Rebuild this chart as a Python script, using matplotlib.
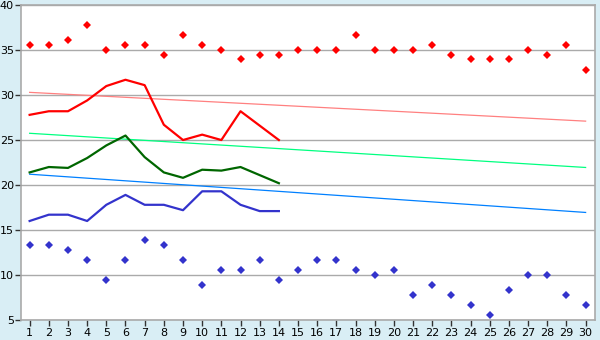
import matplotlib
matplotlib.use('Agg')
import matplotlib.pyplot as plt

# days of the month
days = list(range(1, 31))
days_14 = list(range(1, 15))

# record highs / record lows (diamond markers)
rec_high = [35.6, 35.6, 36.1, 37.8, 35.0, 35.6, 35.6, 34.4, 36.7, 35.6,
            35.0, 34.0, 34.4, 34.4, 35.0, 35.0, 35.0, 36.7, 35.0, 35.0,
            35.0, 35.6, 34.4, 34.0, 34.0, 34.0, 35.0, 34.4, 35.6, 32.8]
rec_low = [13.3, 13.3, 12.8, 11.7, 9.4, 11.7, 13.9, 13.3, 11.7, 8.9,
           10.6, 10.6, 11.7, 9.4, 10.6, 11.7, 11.7, 10.6, 10.0, 10.6,
           7.8, 8.9, 7.8, 6.7, 5.6, 8.3, 10.0, 10.0, 7.8, 6.7]

# observed max / mean / min for the first 14 days
obs_max = [27.8, 28.2, 28.2, 29.4, 31.0, 31.7, 31.1, 26.7, 25.0, 25.6, 25.0, 28.2, 26.6, 25.0]
obs_mean = [21.4, 22.0, 21.9, 23.0, 24.4, 25.5, 23.1, 21.4, 20.8, 21.7, 21.6, 22.0, 21.1, 20.2]
obs_min = [16.0, 16.7, 16.7, 16.0, 17.8, 18.9, 17.8, 17.8, 17.2, 19.3, 19.3, 17.8, 17.1, 17.1]

# normal trend lines (start / end values)
trend_days = [1, 30]
norm_max = [30.3, 27.1]
norm_mean = [25.75, 21.95]
norm_min = [21.2, 16.95]

bg = '#d9eef5'
fig = plt.figure(figsize=(6, 3.4), dpi=100, facecolor=bg)
ax = fig.add_axes([0.035, 0.059, 0.957, 0.926])
ax.set_facecolor('white')

ax.plot(trend_days, norm_max, color='#ff8080', lw=0.9)
ax.plot(trend_days, norm_mean, color='#00ff80', lw=0.9)
ax.plot(trend_days, norm_min, color='#0080ff', lw=0.9)

ax.plot(days_14, obs_max, color='#ff0000', lw=1.6)
ax.plot(days_14, obs_mean, color='#006600', lw=1.6)
ax.plot(days_14, obs_min, color='#3333cc', lw=1.6)

ax.plot(days, rec_high, ls='none', marker='D', ms=4, color='#ff0000', mew=0)
ax.plot(days, rec_low, ls='none', marker='D', ms=4, color='#3333cc', mew=0)

ax.set_xlim(0.55, 30.5)
ax.set_ylim(5, 40)
ax.set_xticks(days)
ax.set_yticks(range(5, 41, 5))
ax.yaxis.grid(True, color='#aaaaaa', lw=1)
ax.set_axisbelow(True)
for s in ax.spines.values():
    s.set_color('#aaaaaa')
    s.set_linewidth(1.2)
ax.tick_params(axis='both', colors='#333333', labelcolor='black', labelsize=8, length=4, width=1)
ax.tick_params(axis='x', pad=2)
ax.tick_params(axis='y', pad=1)

plt.savefig('out.png', dpi=100, facecolor=bg)
